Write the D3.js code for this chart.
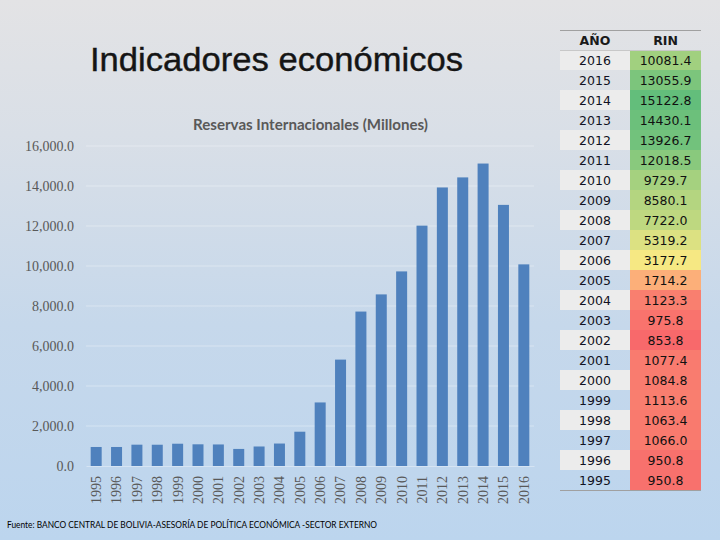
<!DOCTYPE html>
<html><head><meta charset="utf-8">
<script src="https://cdn.jsdelivr.net/npm/d3@7"></script>
<style>html,body{margin:0;padding:0;}svg{display:block;}</style>
</head><body>
<script>
const years = [1995,1996,1997,1998,1999,2000,2001,2002,2003,2004,2005,2006,2007,2008,2009,2010,2011,2012,2013,2014,2015,2016];
const rin = [950.8,950.8,1066.0,1063.4,1113.6,1084.8,1077.4,853.8,975.8,1123.3,1714.2,3177.7,5319.2,7722.0,8580.1,9729.7,12018.5,13926.7,14430.1,15122.8,13055.9,10081.4];
const yTicks = [0,2000,4000,6000,8000,10000,12000,14000,16000];
const pageTitle = "Indicadores económicos";
const chartTitle = "Reservas Internacionales (Millones)";
const sourceNote = "Fuente: BANCO CENTRAL DE BOLIVIA-ASESORÍA DE POLÍTICA ECONÓMICA -SECTOR EXTERNO";
const tableHeaders = ["AÑO","RIN"];

const W = 720, H = 540;
const svg = d3.select("body").append("svg").attr("width", W).attr("height", H);
const defs = svg.append("defs");
const grad = defs.append("linearGradient").attr("id","bg").attr("x1",0).attr("y1",0).attr("x2",0).attr("y2",1);
grad.append("stop").attr("offset","0%").attr("stop-color","#e3e3e5");
grad.append("stop").attr("offset","25%").attr("stop-color","#d9dfe7");
grad.append("stop").attr("offset","60%").attr("stop-color","#c6d8eb");
grad.append("stop").attr("offset","100%").attr("stop-color","#bcd5ee");
svg.append("rect").attr("width",W).attr("height",H).attr("fill","url(#bg)");

svg.append("text").attr("x",90).attr("y",71).text(pageTitle)
  .attr("font-family","Liberation Sans, Arial, sans-serif").attr("font-size",33).attr("fill","#151515")
  .attr("stroke","#151515").attr("stroke-width",0.4)
  .attr("textLength",373).attr("lengthAdjust","spacingAndGlyphs");

svg.append("text").attr("x",310.5).attr("y",130).attr("text-anchor","middle").text(chartTitle)
  .attr("font-family","Lato, sans-serif").attr("font-weight",700).attr("font-size",14.5).attr("fill","#595959")
  .attr("textLength",235).attr("lengthAdjust","spacingAndGlyphs");

const x = d3.scaleBand().domain(years).range([86,534]).paddingInner(0.46).paddingOuter(0.23);
const y = d3.scaleLinear().domain([0,16000]).range([466,146]);

// gridlines
svg.append("g").selectAll("line").data(yTicks.filter(d=>d>0)).join("line")
  .attr("x1",86).attr("x2",534).attr("y1",d=>y(d)).attr("y2",d=>y(d))
  .attr("stroke","#ffffff").attr("stroke-opacity",0.35).attr("stroke-width",1);

// y axis labels
const yAxis = svg.append("g").attr("transform","translate(74,0)")
  .call(d3.axisLeft(y).tickValues(yTicks).tickFormat(d3.format(",.1f")).tickSize(0).tickPadding(0));
yAxis.select(".domain").remove();
yAxis.selectAll("text").attr("font-family","Liberation Serif, Times New Roman, serif").attr("font-size",14).attr("fill","#595959");

// bars
svg.append("g").selectAll("rect").data(years).join("rect")
  .attr("x",d=>x(d)).attr("width",x.bandwidth())
  .attr("y",(d,i)=>y(rin[i])).attr("height",(d,i)=>y(0)-y(rin[i]))
  .attr("fill","#4f81bd");

// x axis labels
const xAxis = svg.append("g").attr("transform","translate(0,466)")
  .call(d3.axisBottom(x).tickSize(0).tickPadding(0));
xAxis.select(".domain").attr("stroke","#ffffff").attr("stroke-opacity",0.35);
xAxis.selectAll("text")
  .attr("font-family","Liberation Serif, Times New Roman, serif").attr("font-size",14).attr("fill","#595959")
  .attr("transform","rotate(-90)").attr("text-anchor","end").attr("dy","0.35em").attr("x",-10).attr("y",0);

// source
svg.append("text").attr("x",7).attr("y",528).text(sourceNote)
  .attr("font-family","Lato, sans-serif").attr("font-size",9.5).attr("fill","#000")
  .attr("textLength",370).attr("lengthAdjust","spacingAndGlyphs");

// table
const tX0 = 560, tX1 = 630, tX2 = 701, tY0 = 30, rowH = 20;
const rows = years.map((yr,i)=>({year:yr, v:rin[i]})).reverse();
const sorted = rin.slice().sort((a,b)=>a-b);
const color = d3.scaleLinear().domain([d3.min(rin), d3.median(sorted), d3.max(rin)])
  .range(["#f8696b","#ffeb84","#63be7b"]).interpolate(d3.interpolateRgb);
const tbl = svg.append("g");
tbl.selectAll("rect.yr").data(rows).join("rect").attr("class","yr")
  .attr("x",tX0).attr("width",tX1-tX0).attr("y",(d,i)=>tY0+rowH*(i+1)).attr("height",rowH)
  .attr("fill",(d,i)=>i%2===0?"#ececec":"none");
tbl.selectAll("rect.v").data(rows).join("rect").attr("class","v")
  .attr("x",tX1).attr("width",tX2-tX1).attr("y",(d,i)=>tY0+rowH*(i+1)).attr("height",rowH)
  .attr("fill",d=>color(d.v));
tbl.selectAll("text.h").data(tableHeaders).join("text").attr("class","h")
  .attr("x",(d,i)=>i===0?(tX0+tX1)/2:(tX1+tX2)/2).attr("y",tY0+rowH/2+5).attr("text-anchor","middle")
  .text(d=>d).attr("font-family","DejaVu Sans, Verdana, sans-serif").attr("font-weight","bold").attr("font-size",12.5).attr("fill","#1a1a1a");
tbl.selectAll("text.yt").data(rows).join("text").attr("class","yt")
  .attr("x",(tX0+tX1)/2).attr("y",(d,i)=>tY0+rowH*(i+1)+rowH/2+5).attr("text-anchor","middle")
  .text(d=>d.year).attr("font-family","DejaVu Sans, Verdana, sans-serif").attr("font-size",12.5).attr("fill","#111122");
tbl.selectAll("text.vt").data(rows).join("text").attr("class","vt")
  .attr("x",(tX1+tX2)/2).attr("y",(d,i)=>tY0+rowH*(i+1)+rowH/2+5).attr("text-anchor","middle")
  .text(d=>d3.format(".1f")(d.v)).attr("font-family","DejaVu Sans, Verdana, sans-serif").attr("font-size",12.5).attr("fill","#111111");
[tY0, tY0+rowH, tY0+rowH*(rows.length+1)].forEach((yy,k)=>{
  tbl.append("line").attr("x1",tX0).attr("x2",tX2).attr("y1",yy+0.5).attr("y2",yy+0.5)
    .attr("stroke",k===1?"#c8c8c8":"#a0a0a0").attr("stroke-width",1);
});
</script>
</body></html>
